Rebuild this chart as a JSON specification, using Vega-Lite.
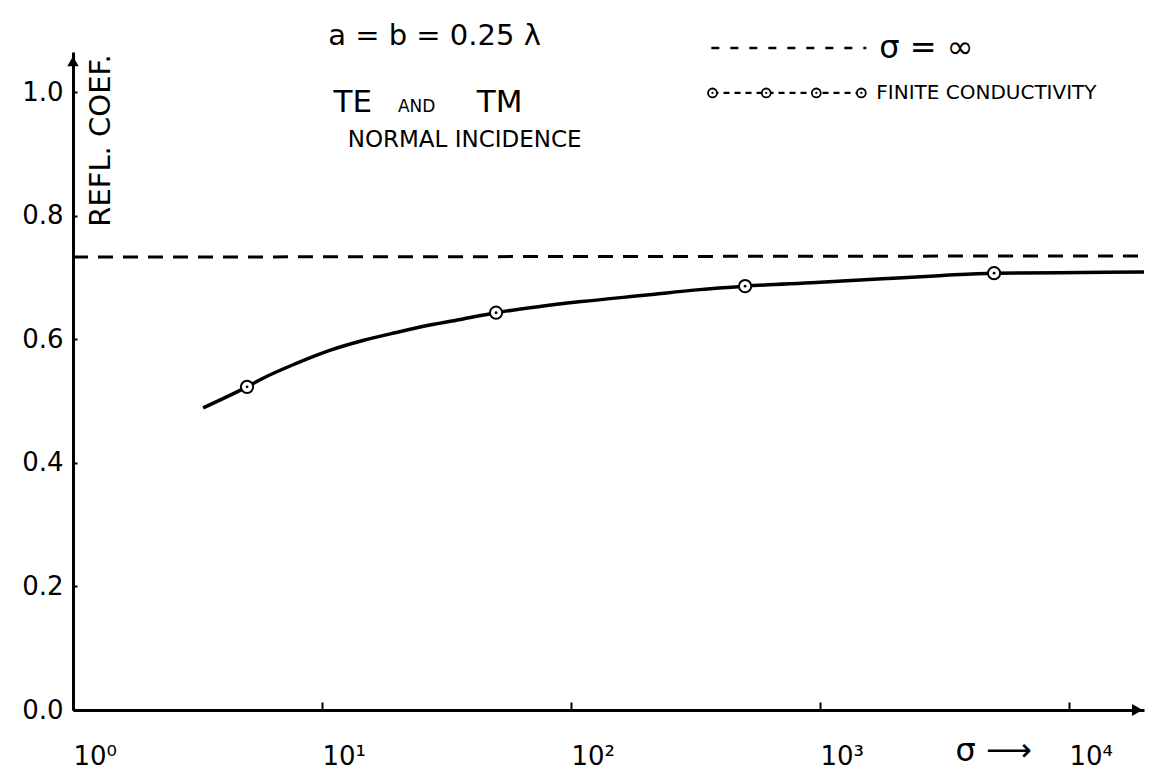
{
  "$schema": "https://vega.github.io/schema/vega-lite/v6.json",
  "autosize": {"type": "none"},
  "padding": {"left": 73, "top": 52, "right": 15, "bottom": 59},
  "width": 1071,
  "height": 658,
  "background": "white",
  "config": {
    "view": {"stroke": null},
    "font": "DejaVu Sans",
    "axis": {
      "domainColor": "black",
      "domainWidth": 3,
      "tickColor": "black",
      "tickWidth": 2,
      "grid": false,
      "labelColor": "black",
      "titleColor": "black",
      "labelFont": "DejaVu Sans",
      "titleFont": "DejaVu Sans",
      "labelFontWeight": "normal",
      "titleFontWeight": "normal"
    }
  },
  "datasets": {
    "curve": [
      {"x": 3.33, "y": 0.489},
      {"x": 4.1, "y": 0.506},
      {"x": 5, "y": 0.523},
      {"x": 5.8, "y": 0.537},
      {"x": 7.89, "y": 0.561},
      {"x": 10.74, "y": 0.582},
      {"x": 14.6, "y": 0.598},
      {"x": 19.9, "y": 0.611},
      {"x": 27.1, "y": 0.623},
      {"x": 36.8, "y": 0.633},
      {"x": 50, "y": 0.643},
      {"x": 75, "y": 0.653},
      {"x": 110, "y": 0.661},
      {"x": 206, "y": 0.672},
      {"x": 320, "y": 0.680},
      {"x": 500, "y": 0.686},
      {"x": 963, "y": 0.692},
      {"x": 1785, "y": 0.698},
      {"x": 3010, "y": 0.703},
      {"x": 5000, "y": 0.707},
      {"x": 11270, "y": 0.708},
      {"x": 20000, "y": 0.709}
    ],
    "markers": [
      {"x": 5, "y": 0.523},
      {"x": 50, "y": 0.643},
      {"x": 500, "y": 0.686},
      {"x": 5000, "y": 0.707}
    ],
    "infinite": [
      {"x": 1, "y": 0.733},
      {"x": 20000, "y": 0.735}
    ],
    "legendDash": [
      {"x": 366, "y": 1.0716},
      {"x": 1534, "y": 1.0716}
    ],
    "legendFinite": [
      {"x": 370, "y": 0.9987},
      {"x": 608, "y": 0.9987},
      {"x": 966, "y": 0.9987},
      {"x": 1465, "y": 0.9987}
    ],
    "arrowUp": [{"x": 1, "y": 1.05}],
    "arrowRight": [{"x": 18800, "y": 0}]
  },
  "encoding": {
    "x": {
      "field": "x",
      "type": "quantitative",
      "scale": {"type": "log", "domain": [1, 20000], "nice": false},
      "axis": {
        "values": [1, 10, 100, 1000, 10000],
        "labelExpr": "datum.value == 1 ? '10⁰' : datum.value == 10 ? '10¹' : datum.value == 100 ? '10²' : datum.value == 1000 ? '10³' : '10⁴'",
        "tickSize": -8,
        "labelPadding": 41,
        "labelFontSize": 26,
        "labelAlign": "left",
        "labelDx": -2,
        "labelFlush": false,
        "labelOverlap": false,
        "title": "σ ⟶",
        "titleFontSize": 32,
        "titleAlign": "left",
        "titleBaseline": "middle",
        "titleX": 882,
        "titleY": 40
      }
    },
    "y": {
      "field": "y",
      "type": "quantitative",
      "scale": {"domain": [0, 1.065], "nice": false, "zero": true},
      "axis": {
        "values": [0, 0.2, 0.4, 0.6, 0.8, 1.0],
        "format": ".1f",
        "tickSize": -4,
        "labelPadding": 14,
        "labelFontSize": 26,
        "labelFlush": false,
        "title": "REFL. COEF.",
        "titleFontSize": 29,
        "titleAngle": 270,
        "titleAlign": "center",
        "titleBaseline": "middle",
        "titleX": 27,
        "titleY": 88
      }
    }
  },
  "layer": [
    {
      "data": {"name": "infinite"},
      "mark": {"type": "line", "color": "black", "strokeWidth": 3, "strokeDash": [15, 10]}
    },
    {
      "data": {"name": "curve"},
      "mark": {"type": "line", "color": "black", "strokeWidth": 3.5, "interpolate": "monotone"}
    },
    {
      "data": {"name": "markers"},
      "mark": {"type": "point", "shape": "circle", "size": 150, "filled": true, "fill": "white", "stroke": "black", "strokeWidth": 2, "opacity": 1}
    },
    {
      "data": {"name": "markers"},
      "mark": {"type": "point", "shape": "circle", "size": 8, "filled": true, "color": "black", "opacity": 1}
    },
    {
      "data": {"name": "legendDash"},
      "mark": {"type": "line", "color": "black", "strokeWidth": 2.5, "strokeDash": [8, 11]}
    },
    {
      "data": {"name": "legendFinite"},
      "mark": {"type": "line", "color": "black", "strokeWidth": 2.2, "strokeDash": [6, 5]}
    },
    {
      "data": {"name": "legendFinite"},
      "mark": {"type": "point", "shape": "circle", "size": 80, "filled": true, "fill": "white", "stroke": "black", "strokeWidth": 1.8, "opacity": 1}
    },
    {
      "data": {"name": "legendFinite"},
      "mark": {"type": "point", "shape": "circle", "size": 5, "filled": true, "color": "black", "opacity": 1}
    },
    {
      "data": {"values": [{"x": 1729, "y": 1.0716, "label": "σ = ∞"}]},
      "mark": {"type": "text", "align": "left", "baseline": "middle", "fontSize": 32, "color": "black"},
      "encoding": {"text": {"field": "label"}}
    },
    {
      "data": {"values": [{"x": 1682, "y": 0.9987, "label": "FINITE CONDUCTIVITY"}]},
      "mark": {"type": "text", "align": "left", "baseline": "middle", "fontSize": 20, "color": "black"},
      "encoding": {"text": {"field": "label"}}
    },
    {
      "data": {"values": [{"x": 28.3, "y": 1.091, "label": "a = b = 0.25 λ"}]},
      "mark": {"type": "text", "align": "center", "baseline": "middle", "fontSize": 29, "color": "black"},
      "encoding": {"text": {"field": "label"}}
    },
    {
      "data": {"values": [{"x": 13.3, "y": 0.968, "label": "TE"}, {"x": 51.7, "y": 0.968, "label": "TM"}]},
      "mark": {"type": "text", "align": "center", "baseline": "alphabetic", "fontSize": 31, "color": "black"},
      "encoding": {"text": {"field": "label"}}
    },
    {
      "data": {"values": [{"x": 24.0, "y": 0.968, "label": "AND"}]},
      "mark": {"type": "text", "align": "center", "baseline": "alphabetic", "fontSize": 17, "color": "black"},
      "encoding": {"text": {"field": "label"}}
    },
    {
      "data": {"values": [{"x": 37.4, "y": 0.923, "label": "NORMAL INCIDENCE"}]},
      "mark": {"type": "text", "align": "center", "baseline": "middle", "fontSize": 23, "color": "black"},
      "encoding": {"text": {"field": "label"}}
    },
    {
      "data": {"name": "arrowUp"},
      "mark": {"type": "point", "shape": "triangle-up", "size": 130, "filled": true, "color": "black", "opacity": 1}
    },
    {
      "data": {"name": "arrowRight"},
      "mark": {"type": "point", "shape": "triangle-right", "size": 150, "filled": true, "color": "black", "opacity": 1}
    }
  ]
}
